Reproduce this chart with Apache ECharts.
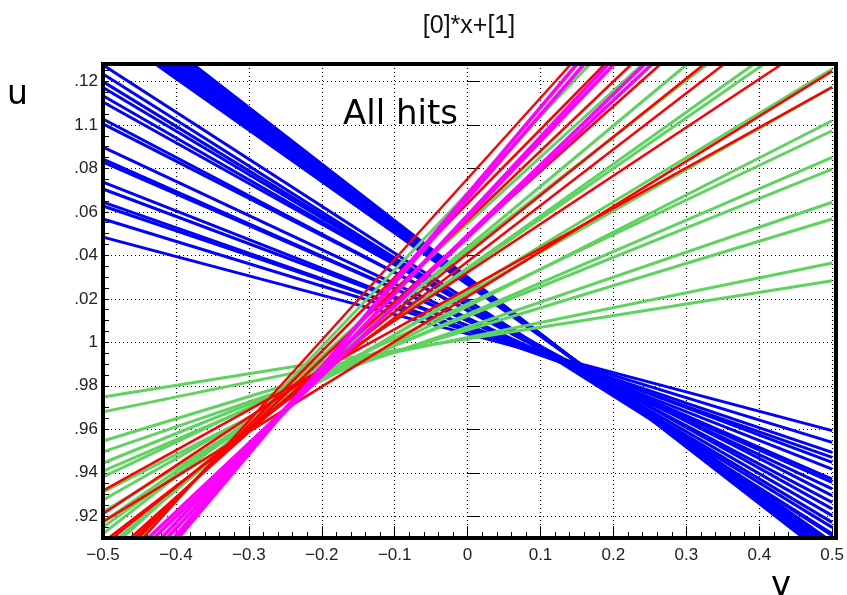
<!DOCTYPE html>
<html>
<head>
<meta charset="utf-8">
<script src="https://cdn.jsdelivr.net/npm/echarts@6/dist/echarts.min.js"></script>
<style>
html, body { margin: 0; padding: 0; background: #fff; }
#chart { width: 847px; height: 595px; }
</style>
</head>
<body>
<div id="chart"></div>
<script>
// major u ticks and the (clipped) labels as they show in the picture
const uTicks = [0.92, 0.94, 0.96, 0.98, 1, 1.02, 1.04, 1.06, 1.08, 1.1, 1.12];
const uTickLabels = ['.92', '.94', '.96', '.98', '1', '.02', '.04', '.06', '.08', '1.1', '.12'];

// every track is [v_in, u_in, v_out, u_out], read where it meets the frame
const blueFan = [
  [-0.5, 1.1275, 0.5, 0.9112],
  [-0.5, 1.1234, 0.5, 0.9119],
  [-0.5, 1.1199, 0.5, 0.9149],
  [-0.5, 1.1172, 0.5, 0.9172],
  [-0.5, 1.1134, 0.5, 0.9203],
  [-0.5, 1.1105, 0.5, 0.9234],
  [-0.5, 1.1027, 0.5, 0.9264],
  [-0.5, 1.1005, 0.5, 0.9295],
  [-0.5, 1.0898, 0.5, 0.9326],
  [-0.5, 1.0843, 0.5, 0.9356],
  [-0.5, 1.0829, 0.5, 0.9371],
  [-0.5, 1.0737, 0.5, 0.9417],
  [-0.5, 1.0705, 0.5, 0.9448],
  [-0.5, 1.0645, 0.5, 0.9471],
  [-0.5, 1.0627, 0.5, 0.9494],
  [-0.5, 1.0567, 0.5, 0.954],
  [-0.5, 1.0484, 0.5, 0.9594]
];
const blueBand = [
  [-0.428, 1.128, 0.492, 0.91],
  [-0.422, 1.128, 0.489, 0.91],
  [-0.417, 1.128, 0.485, 0.91],
  [-0.411, 1.128, 0.482, 0.91],
  [-0.405, 1.128, 0.478, 0.91],
  [-0.400, 1.128, 0.475, 0.91],
  [-0.394, 1.128, 0.471, 0.91],
  [-0.388, 1.128, 0.468, 0.91],
  [-0.382, 1.128, 0.464, 0.91],
  [-0.377, 1.128, 0.461, 0.91]
];
const greenTracks = [
  [-0.5, 0.9748, 0.5, 1.0283],
  [-0.5, 0.968, 0.5, 1.0365],
  [-0.5, 0.9546, 0.5, 1.0567],
  [-0.5, 0.9496, 0.5, 1.0644],
  [-0.5, 0.9445, 0.5, 1.0797],
  [-0.5, 0.9408, 0.5, 1.0851],
  [-0.5, 0.9381, 0.5, 1.0973],
  [-0.5, 0.9312, 0.5, 1.1019],
  [-0.5, 0.9275, 0.5, 1.1174],
  [-0.5, 0.922, 0.5, 1.1257],
  [-0.5, 0.9174, 0.4065, 1.128],
  [-0.5, 0.915, 0.3929, 1.128],
  [-0.5, 0.912, 0.3288, 1.128],
  [-0.4789, 0.91, 0.3015, 1.128],
  [-0.4734, 0.91, 0.2401, 1.128],
  [-0.4488, 0.91, 0.1678, 1.128]
];
const redTracks = [
  [-0.5, 0.9318, 0.5, 1.1174],
  [-0.5, 0.9174, 0.5, 1.1247],
  [-0.5, 0.9211, 0.4311, 1.128],
  [-0.4925, 0.91, 0.352, 1.128],
  [-0.487, 0.91, 0.3247, 1.128],
  [-0.4625, 0.91, 0.2647, 1.128],
  [-0.457, 0.91, 0.2251, 1.128],
  [-0.452, 0.91, 0.1883, 1.128],
  [-0.445, 0.91, 0.1419, 1.128]
];
const magentaTracks = [
  [-0.397, 0.91, 0.150, 1.128],
  [-0.403, 0.91, 0.160, 1.128],
  [-0.412, 0.91, 0.193, 1.128],
  [-0.420, 0.91, 0.201, 1.128],
  [-0.430, 0.91, 0.243, 1.128],
  [-0.438, 0.91, 0.253, 1.128]
];

function trackSeries(tracks, color, width) {
  return tracks.map(t => ({
    type: 'line',
    data: [[t[0], t[1]], [t[2], t[3]]],
    symbol: 'none',
    lineStyle: { color: color, width: width },
    silent: true,
    clip: true
  }));
}

const labelFont = { fontFamily: 'Liberation Sans', fontSize: 17, color: '#222' };
const gridDots = { color: '#000', type: [1, 3], width: 1.2 };

const chart = echarts.init(document.getElementById('chart'));
chart.setOption({
  animation: false,
  backgroundColor: '#fff',
  grid: { left: 103, right: 11, top: 64, bottom: 57 },
  xAxis: {
    type: 'value', min: -0.5, max: 0.5, interval: 0.1,
    axisLine: { show: false },
    axisTick: { inside: true, length: 12, lineStyle: { color: '#000', width: 1 } },
    minorTick: { show: true, splitNumber: 5, length: 6, lineStyle: { color: '#000', width: 1 } },
    splitLine: { show: true, lineStyle: gridDots },
    axisLabel: Object.assign({
      margin: 9,
      formatter: v => {
        const n = Number(v.toFixed(1));
        return n < 0 ? '\u2212' + Math.abs(n) : String(n);
      }
    }, labelFont)
  },
  yAxis: [{
    type: 'value', min: 0.91, max: 1.128,
    axisLine: { show: false },
    axisTick: { inside: true, length: 12, customValues: uTicks, lineStyle: { color: '#000', width: 1 } },
    splitLine: { show: true, lineStyle: gridDots },
    axisLabel: Object.assign({
      margin: 5,
      customValues: uTicks,
      formatter: v => {
        const i = uTicks.findIndex(t => Math.abs(t - v) < 1e-6);
        return i >= 0 ? uTickLabels[i] : '';
      }
    }, labelFont)
  }, {
    // minor ticks every 0.005
    type: 'value', min: 0.91, max: 1.128, interval: 0.005, position: 'left',
    axisLine: { show: false },
    axisTick: { inside: true, length: 6, lineStyle: { color: '#000', width: 1 } },
    axisLabel: { show: false },
    splitLine: { show: false }
  }],
  series: [].concat(
    trackSeries(blueFan, '#0000ff', 3),
    trackSeries(blueBand, '#0000ff', 3),
    trackSeries(greenTracks, '#5fd35f', 3),
    trackSeries(redTracks, '#ff0000', 2.5),
    trackSeries(magentaTracks, '#ff00ff', 3.5)
  ),
  graphic: [
    { type: 'rect', z: 100, silent: true,
      shape: { x: 103, y: 64, width: 733, height: 474 },
      style: { fill: 'none', stroke: '#000', lineWidth: 4 } },
    { type: 'text', z: 110, x: 469, y: 26,
      style: { text: '[0]*x+[1]', font: '25px "Liberation Sans"', fill: '#111', textAlign: 'center', textVerticalAlign: 'middle' } },
    { type: 'text', z: 110, x: 343, y: 115,
      style: { text: 'All hits', font: '34px "DejaVu Sans"', fill: '#000', textAlign: 'left', textVerticalAlign: 'middle' } },
    { type: 'text', z: 110, x: 7, y: 95,
      style: { text: 'u', font: '33px "DejaVu Sans"', fill: '#000', textAlign: 'left', textVerticalAlign: 'middle' } },
    { type: 'text', z: 110, x: 771, y: 586,
      style: { text: 'v', font: '34px "DejaVu Sans"', fill: '#000', textAlign: 'left', textVerticalAlign: 'middle' } }
  ]
});
</script>
</body>
</html>
